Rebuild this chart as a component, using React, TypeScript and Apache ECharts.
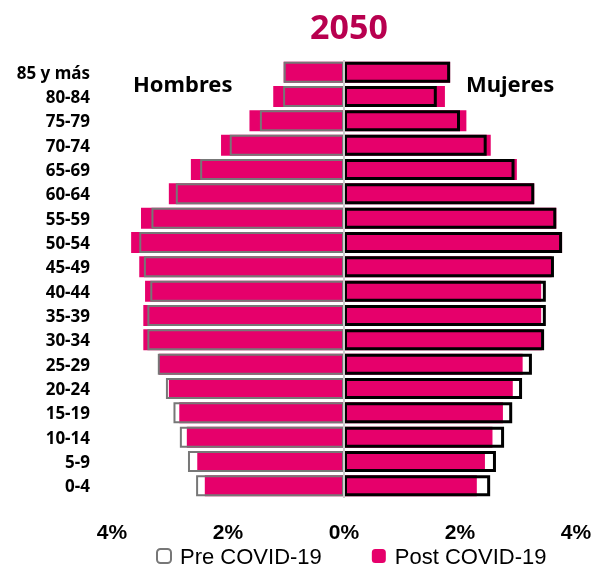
import React, { useEffect, useRef } from "react";
import * as echarts from "echarts";

const ageGroups = ["0-4", "5-9", "10-14", "15-19", "20-24", "25-29", "30-34", "35-39", "40-44", "45-49", "50-54", "55-59", "60-64", "65-69", "70-74", "75-79", "80-84", "85 y más"];
const menPre = [2.55, 2.69, 2.83, 2.94, 3.07, 3.21, 3.39, 3.39, 3.34, 3.45, 3.53, 3.32, 2.90, 2.48, 1.97, 1.45, 1.05, 1.04];
const menPost = [2.40, 2.53, 2.71, 2.84, 3.02, 3.19, 3.46, 3.46, 3.43, 3.53, 3.67, 3.50, 3.02, 2.64, 2.12, 1.63, 1.22, 1.04];
const womenPre = [2.52, 2.62, 2.76, 2.90, 3.07, 3.24, 3.45, 3.48, 3.48, 3.62, 3.76, 3.66, 3.28, 2.94, 2.46, 2.00, 1.60, 1.83];
const womenPost = [2.29, 2.43, 2.56, 2.74, 2.91, 3.08, 3.41, 3.40, 3.40, 3.58, 3.76, 3.66, 3.28, 2.98, 2.53, 2.11, 1.74, 1.83];
const xTicks = [-4, -2, 0, 2, 4];

const PINK = "#E6006B";
const FONT = "'Noto Sans', 'Open Sans', sans-serif";
const FONT2 = "'Liberation Sans', Arial, sans-serif";

export default function App() {
  const ref = useRef<HTMLDivElement>(null);
  useEffect(() => {
    if (!ref.current) return;
    const chart = echarts.init(ref.current, null, { renderer: "svg" });
    const option: any = {
      animation: false,
      textStyle: { fontFamily: FONT },
      title: {
        text: "2050",
        left: 344,
        textAlign: "center",
        top: 4,
        textStyle: { fontSize: 34, fontWeight: "bold", color: "#B8004F", fontFamily: FONT },
      },
      legend: {
        data: ["Pre COVID-19", "Post COVID-19"],
        left: 156,
        top: 545,
        padding: 0,
        itemWidth: 14,
        itemHeight: 14,
        itemGap: 50,
        textStyle: { fontSize: 22, lineHeight: 20, color: "#000", fontFamily: FONT2, padding: [0, 0, 0, 4] },
      },
      grid: { left: 112, right: 24, top: 60, bottom: 70, containLabel: false },
      xAxis: {
        type: "value",
        min: -4,
        max: 4,
        interval: 2,
        axisLine: { show: false },
        axisTick: { show: false },
        splitLine: { show: false },
        axisLabel: {
          margin: 23,
          fontSize: 21,
          lineHeight: 20,
          fontWeight: "bold",
          color: "#000",
          fontFamily: FONT2,
          formatter: (v: number) => (xTicks.includes(v) ? Math.abs(v) + "%" : ""),
        },
      },
      yAxis: {
        type: "category",
        data: ageGroups,
        axisLine: { show: false, onZero: false },
        axisTick: { show: false },
        axisLabel: { margin: 22, fontSize: 17, fontWeight: "bold", color: "#000", fontFamily: FONT },
      },
      graphic: [
        { type: "text", left: 133, top: 72, style: { text: "Hombres", fontSize: 22, fontWeight: "bold", fill: "#000", fontFamily: FONT } },
        { type: "text", left: 466, top: 72, style: { text: "Mujeres", fontSize: 22, fontWeight: "bold", fill: "#000", fontFamily: FONT } },
      ],
      series: [
        {
          name: "Post COVID-19",
          type: "bar",
          data: menPost.map((v) => -v),
          barWidth: 21,
          barGap: "-100%",
          itemStyle: { color: PINK },
          z: 2,
        },
        {
          name: "Post COVID-19",
          type: "bar",
          data: womenPost,
          barWidth: 21,
          barGap: "-100%",
          itemStyle: { color: PINK },
          z: 2,
          markLine: {
            silent: true,
            symbol: "none",
            label: { show: false },
            lineStyle: { color: "#cccccc", width: 2, type: "solid" },
            data: [{ xAxis: 0 }],
          },
        },
        {
          name: "Pre COVID-19",
          type: "bar",
          data: menPre.map((v) => -v),
          barWidth: 21,
          barGap: "-100%",
          itemStyle: { color: "rgba(255,255,255,0)", borderColor: "#777777", borderWidth: 2 },
          z: 3,
        },
        {
          name: "Pre COVID-19",
          type: "bar",
          data: womenPre,
          barWidth: 21,
          barGap: "-100%",
          itemStyle: { color: "rgba(255,255,255,0)", borderColor: "#000000", borderWidth: 3 },
          z: 3,
        },
      ],
    };
    chart.setOption(option);
    return () => chart.dispose();
  }, []);
  return <div ref={ref} style={{ position: "fixed", left: 0, top: 0, width: 600, height: 568 }} />;
}
